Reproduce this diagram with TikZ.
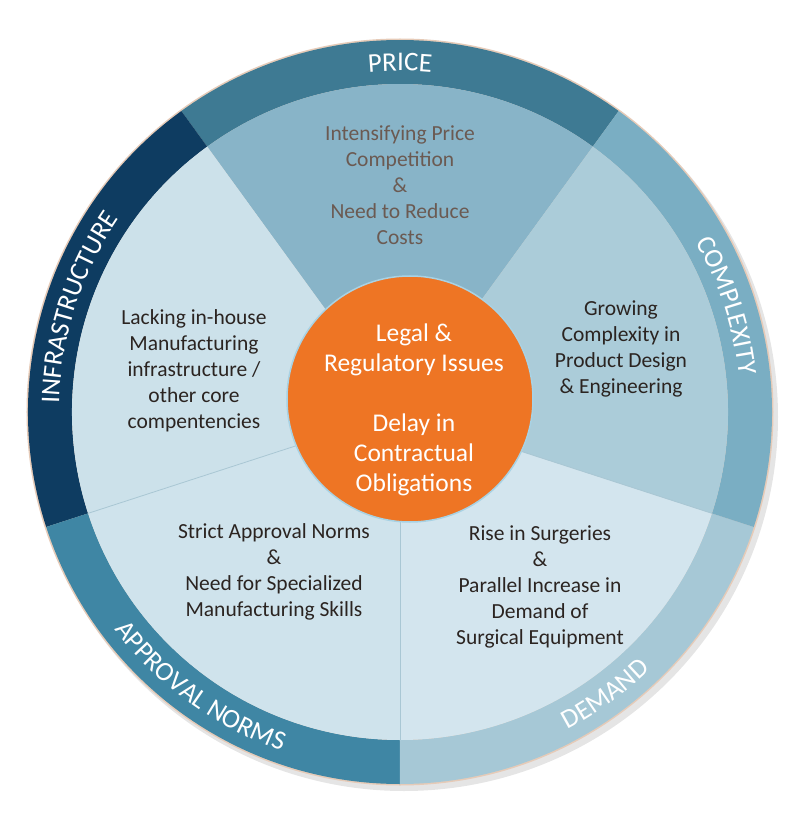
\documentclass[tikz,border=0pt]{standalone}
\usepackage{fontspec}
\setmainfont{Carlito}
\usetikzlibrary{decorations.text}

\definecolor{ringprice}{HTML}{3E7A93}
\definecolor{ringcomplex}{HTML}{7AAEC3}
\definecolor{ringdemand}{HTML}{A6C8D6}
\definecolor{ringapproval}{HTML}{3F86A4}
\definecolor{ringinfra}{HTML}{0E3C61}
\definecolor{pieprice}{HTML}{88B4C8}
\definecolor{piecomplex}{HTML}{ABCCD9}
\definecolor{piedemand}{HTML}{D3E5EE}
\definecolor{pieapproval}{HTML}{CFE3EC}
\definecolor{pieinfra}{HTML}{CCE1EA}
\definecolor{hub}{HTML}{EE7524}
\definecolor{hubrim}{HTML}{A8D2E4}
\definecolor{textdark}{HTML}{2B2421}
\definecolor{textprice}{HTML}{6B5A52}
\definecolor{rimtan}{HTML}{E6CBB8}
\definecolor{divider}{HTML}{A9C7D4}

\newcommand{\ringfont}{\fontsize{27}{27}\selectfont\color{white}}

\begin{document}
\begin{tikzpicture}[x=1pt, y=1pt,
    ringlabel/.style={decorate, decoration={text along path, text align=center, text={|\ringfont|#1}}},
    sectortext/.style={align=center, text=textdark, font=\fontsize{21.5}{26}\selectfont},
    hubtext/.style={align=center, text=white, font=\fontsize{25.5}{30}\selectfont}
    ]
        \useasboundingbox (-400,-413) rectangle (392,412);
        \fill[white] (-400,-413) rectangle (392,412);

        %Shadow and rim
        \fill[black, opacity=0.10] (4,-5) circle[radius=374];
        \fill[rimtan] (0,0) circle[radius=373.5];

        %Ring
        \fill[ringprice] (54:372) arc[start angle=54, end angle=126, radius=372]
            -- (126:328) arc[start angle=126, end angle=54, radius=328] -- cycle;
        \fill[ringinfra] (126:372) arc[start angle=126, end angle=198, radius=372]
            -- (198:328) arc[start angle=198, end angle=126, radius=328] -- cycle;
        \fill[ringapproval] (198:372) arc[start angle=198, end angle=270, radius=372]
            -- (270:328) arc[start angle=270, end angle=198, radius=328] -- cycle;
        \fill[ringdemand] (270:372) arc[start angle=270, end angle=342, radius=372]
            -- (342:328) arc[start angle=342, end angle=270, radius=328] -- cycle;
        \fill[ringcomplex] (-18:372) arc[start angle=-18, end angle=54, radius=372]
            -- (54:328) arc[start angle=54, end angle=-18, radius=328] -- cycle;

        %Sectors
        \fill[pieprice] (0,0) -- (54:328) arc[start angle=54, end angle=126, radius=328] -- cycle;
        \fill[pieinfra] (0,0) -- (126:328) arc[start angle=126, end angle=198, radius=328] -- cycle;
        \fill[pieapproval] (0,0) -- (198:328) arc[start angle=198, end angle=270, radius=328] -- cycle;
        \fill[piedemand] (0,0) -- (270:328) arc[start angle=270, end angle=342, radius=328] -- cycle;
        \fill[piecomplex] (0,0) -- (-18:328) arc[start angle=-18, end angle=54, radius=328] -- cycle;
        \draw[divider, line width=0.8] (0,0) -- (198:328);
        \draw[divider, line width=0.8] (0,0) -- (270:328);
        \draw[divider, line width=0.8] (0,0) -- (342:328);

        %Ring labels
        \path[ringlabel=PRICE] (126:341) arc[start angle=126, end angle=54, radius=341];
        \path[ringlabel=INFRASTRUCTURE] (198:341) arc[start angle=198, end angle=126, radius=341];
        \path[ringlabel=COMPLEXITY] (54:341) arc[start angle=54, end angle=-18, radius=341];
        \path[ringlabel=APPROVAL NORMS] (198:359) arc[start angle=198, end angle=270, radius=359];
        \path[ringlabel=DEMAND] (270:359) arc[start angle=270, end angle=342, radius=359];

        %Sector texts
        \node[sectortext, text=textprice]
            (price)     at (0,227)      {Intensifying Price\\Competition\\\&\\Need to Reduce\\Costs};
        \node[sectortext]
            (infra)     at (-206,41)    {Lacking in-house\\Manufacturing\\infrastructure /\\other core\\compentencies};
        \node[sectortext]
            (complex)   at (221,63)     {Growing\\Complexity in\\Product Design\\\& Engineering};
        \node[sectortext]
            (approval)  at (-126,-160)  {Strict Approval Norms\\\&\\Need for Specialized\\Manufacturing Skills};
        \node[sectortext]
            (demand)    at (140,-175)   {Rise in Surgeries\\\&\\Parallel Increase in\\Demand of\\Surgical Equipment};

        %Hub
        \node[circle, fill=hub, draw=hubrim, line width=1.5, minimum size=246, inner sep=0]
            (hub)       at (10,13)      {};
        \node[hubtext]
            (hubtxt)    at (14,2)       {Legal \&\\Regulatory Issues\\[30pt]Delay in\\Contractual\\Obligations};
    \end{tikzpicture}
\end{document}
